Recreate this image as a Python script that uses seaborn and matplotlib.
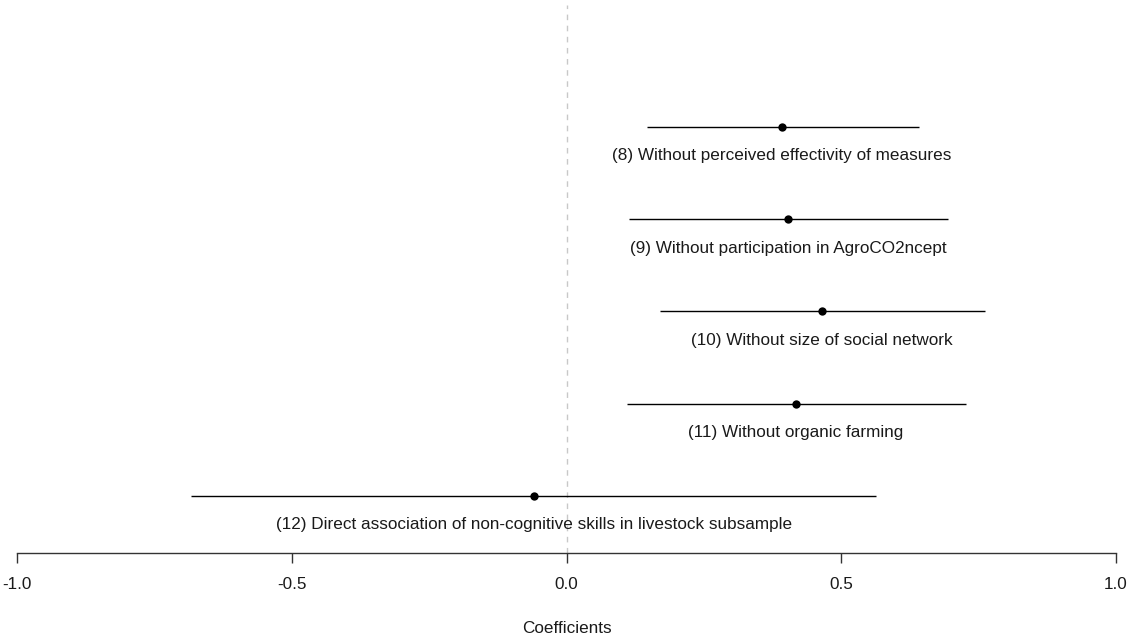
import matplotlib
matplotlib.use("Agg")
import matplotlib.pyplot as plt
import seaborn as sns
import pandas as pd

# Model labels, point estimates and interval bounds
models = [
    "(8) Without perceived effectivity of measures",
    "(9) Without participation in AgroCO2ncept",
    "(10) Without size of social network",
    "(11) Without organic farming",
    "(12) Direct association of non-cognitive skills in livestock subsample",
]
estimates = [0.392, 0.404, 0.465, 0.417, -0.059]
lower = [0.146, 0.114, 0.170, 0.110, -0.683]
upper = [0.641, 0.694, 0.762, 0.727, 0.563]
xticks = [-1.0, -0.5, 0.0, 0.5, 1.0]

df = pd.DataFrame({"model": models, "est": estimates, "lo": lower, "hi": upper})
df["row"] = range(1, len(df) + 1)

sns.set_style("white")
plt.rcParams["font.family"] = ["Liberation Sans", "DejaVu Sans"]

FS = 12.3

fig = plt.figure(figsize=(11.29, 6.35), dpi=100)
ax = fig.add_axes([17 / 1129, 1 - 553 / 635, (1116 - 17) / 1129, (553 - 5) / 635])

# zero reference line
ax.axvline(0, color="#c8c8c8", lw=1, ls=(0, (4, 4)), zorder=0)

# confidence intervals
ax.hlines(df["row"], df["lo"], df["hi"], color="black", lw=1, zorder=1)

# point estimates
sns.scatterplot(data=df, x="est", y="row", ax=ax, color="black", s=36,
                edgecolor="black", linewidth=0, zorder=2, legend=False)

# labels below each interval, centred on the estimate
for _, r in df.iterrows():
    ax.annotate(r["model"], xy=(r["est"], r["row"]), xytext=(0, -29),
                textcoords="offset pixels", ha="center", va="center",
                fontsize=FS, color="#1a1a1a")

ax.set_xlim(-1, 1)
ax.set_ylim(5.62, -0.32)
ax.set_xticks(xticks)
ax.set_xticklabels([f"{t:.1f}" for t in xticks])
ax.set_yticks([])
ax.set_ylabel("")
ax.set_xlabel("Coefficients", fontsize=FS, labelpad=21, color="#1a1a1a")

for s in ["top", "left", "right"]:
    ax.spines[s].set_visible(False)
ax.spines["bottom"].set_color("#333333")
ax.spines["bottom"].set_linewidth(1)
ax.tick_params(axis="x", direction="out", length=7.5, width=1, color="#333333",
               pad=10, labelsize=FS, labelcolor="#1a1a1a", bottom=True)

fig.savefig("out.png", dpi=100)
